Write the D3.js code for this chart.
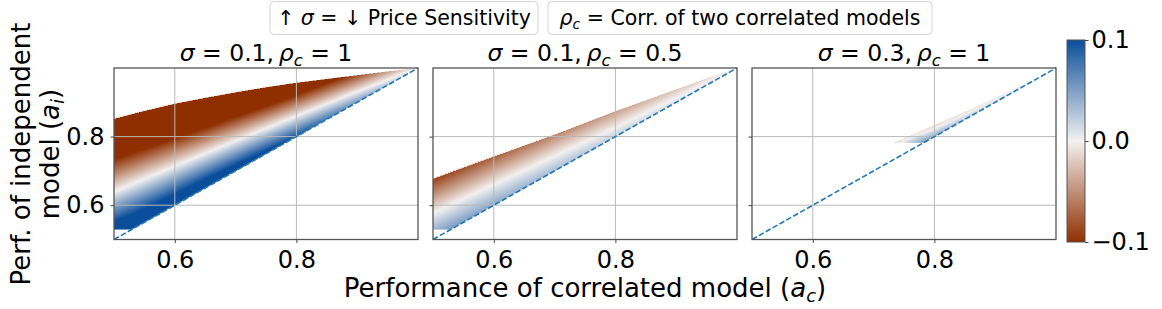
<!DOCTYPE html>
<html><head><meta charset="utf-8">
<script src="https://cdn.jsdelivr.net/npm/d3@7"></script>
<style>body{margin:0;background:#fff} text{font-family:"DejaVu Sans",sans-serif;fill:#000}</style>
</head><body><svg id="c" width="1162" height="309" xmlns="http://www.w3.org/2000/svg"></svg>
<script>
// ---- data ----
const acGrid = [0.5,0.55,0.6,0.65,0.7,0.75,0.8,0.85,0.9,0.95,1.0];
const sigmas = ["0.1","0.1","0.3"];
const rhos   = ["1","0.5","1"];
// upper edge of defined region (a_i), per a_c in acGrid
const top1  = [0.852,0.875,0.896,0.913,0.929,0.944,0.957,0.968,0.979,0.990,1.000];
const top2  = [0.677,0.710,0.742,0.774,0.806,0.840,0.874,0.906,0.938,0.970,1.000];
const top3  = [0.550,0.600,0.650,0.700,0.756,0.795,0.834,0.872,0.913,0.955,0.990];
// a_i where the value crosses 0
const zero1 = [0.639,0.677,0.714,0.751,0.788,0.824,0.860,0.896,0.931,0.966,1.000];
const zero2 = [0.577,0.619,0.661,0.702,0.744,0.785,0.826,0.870,0.913,0.957,1.000];
const zero3 = [0.520,0.570,0.620,0.670,0.720,0.789,0.824,0.864,0.908,0.953,0.990];
// a_i where the value reaches -0.1 (red end)
const neg1  = [0.734,0.765,0.795,0.826,0.858,0.889,0.922,0.956,0.989,1.022,1.055];
const neg2  = [0.687,0.729,0.771,0.813,0.855,0.897,0.940,0.982,1.025,1.070,1.110];
const neg3  = [0.600,0.650,0.700,0.750,0.800,0.869,0.904,0.944,0.988,1.033,1.070];
// a_i where the value reaches +0.1 (blue end)
const pos1  = [0.552,0.589,0.633,0.676,0.718,0.759,0.798,0.836,0.873,0.910,0.945];
const pos2  = [0.442,0.484,0.526,0.567,0.609,0.650,0.691,0.735,0.778,0.822,0.865];
const pos3  = [0.470,0.520,0.570,0.620,0.670,0.734,0.769,0.809,0.853,0.898,0.935];
// lowest a_i row with data
const floors = [0.529,0.529,0.781];
const xTicks = [0.6,0.8];
const yTicks = [0.6,0.8];
const cbTicks = [-0.1,0.0,0.1];
const cbTickLabels = ["\u22120.1","0.0","0.1"];

// ---- drawing ----
const svg = d3.select("#c");
const color = d3.scaleLinear().domain([-0.1,0,0.1])
  .range(["#8f2f00","#f3f1f0","#0a4e9b"]).clamp(true);

const panelX = [114,433,752];
const W = 304, Y0 = 68, H = 171.5;
const FT = 24;
const panels = [
  {top:top1, zero:zero1, neg:neg1, pos:pos1},
  {top:top2, zero:zero2, neg:neg2, pos:pos2},
  {top:top3, zero:zero3, neg:neg3, pos:pos3}
];

panels.forEach((p,i)=>{
  const x0 = panelX[i];
  const x = d3.scaleLinear().domain([0.5,1.0]).range([x0,x0+W]);
  const y = d3.scaleLinear().domain([0.5,1.0]).range([Y0+H,Y0]);
  const g = svg.append("g");
  g.append("rect").attr("x",x0).attr("y",Y0).attr("width",W).attr("height",H).attr("fill","#fff");

  const topS = d3.scaleLinear().domain(acGrid).range(p.top);
  const zeroS = d3.scaleLinear().domain(acGrid).range(p.zero);
  const negS = d3.scaleLinear().domain(acGrid).range(p.neg);
  const posS = d3.scaleLinear().domain(acGrid).range(p.pos);
  const SS = 2;
  const cw = Math.round(W*SS), ch = Math.round(H*SS);
  const canvas = document.createElement("canvas");
  canvas.width = cw; canvas.height = ch;
  const ctx = canvas.getContext("2d");
  const img = ctx.createImageData(cw,ch);
  for(let px=0; px<cw; px++){
    const ac = x.invert(x0 + (px+0.5)/SS);
    const tp = topS(ac);
    const v = d3.scaleLinear().domain([posS(ac),zeroS(ac),negS(ac)]).range([0.1,0,-0.1]).clamp(true);
    for(let py=0; py<ch; py++){
      const ai = y.invert(Y0 + (py+0.5)/SS);
      if (ai > tp || ai < floors[i] || ai <= ac) continue;
      const c = d3.rgb(color(v(ai)));
      const k = (py*cw+px)*4;
      img.data[k]=c.r; img.data[k+1]=c.g; img.data[k+2]=c.b; img.data[k+3]=255;
    }
  }
  ctx.putImageData(img,0,0);
  g.append("image").attr("x",x0).attr("y",Y0).attr("width",W).attr("height",H)
    .attr("preserveAspectRatio","none").attr("href",canvas.toDataURL());

  // grid
  g.selectAll(".gx").data(xTicks).enter().append("line")
    .attr("x1",d=>x(d)).attr("x2",d=>x(d)).attr("y1",Y0).attr("y2",Y0+H)
    .attr("stroke","#b9b9b9").attr("stroke-width",1);
  g.selectAll(".gy").data(yTicks).enter().append("line")
    .attr("y1",d=>y(d)).attr("y2",d=>y(d)).attr("x1",x0).attr("x2",x0+W)
    .attr("stroke","#b9b9b9").attr("stroke-width",1);
  // diagonal
  g.append("line").attr("x1",x(0.5)).attr("y1",y(0.5)).attr("x2",x(1.0)).attr("y2",y(1.0))
    .attr("stroke","#1f77b4").attr("stroke-width",1.6).attr("stroke-dasharray","5.5,2.4");
  // spines
  g.append("rect").attr("x",x0).attr("y",Y0).attr("width",W).attr("height",H)
    .attr("fill","none").attr("stroke","#555").attr("stroke-width",1.3);
  // axes
  const xa = g.append("g").attr("transform",`translate(0,${Y0+H})`)
    .call(d3.axisBottom(x).tickValues(xTicks).tickFormat(d3.format(".1f")).tickSize(3.5).tickPadding(8));
  xa.select(".domain").remove();
  xa.selectAll("line").attr("stroke","#444");
  xa.selectAll("text").attr("font-size",FT).attr("font-family","DejaVu Sans").attr("fill","#000");
  const ya = g.append("g").attr("transform",`translate(${x0},0)`)
    .call(d3.axisLeft(y).tickValues(yTicks).tickFormat(i===0?d3.format(".1f"):()=>"").tickSize(3.5).tickPadding(6));
  ya.select(".domain").remove();
  ya.selectAll("line").attr("stroke","#444");
  ya.selectAll("text").attr("font-size",FT).attr("font-family","DejaVu Sans").attr("fill","#000");

  // title
  const t = svg.append("text").attr("x",x0+W/2).attr("y",61).attr("text-anchor","middle").attr("font-size",23.5);
  t.append("tspan").attr("font-style","italic").text("\u03c3");
  t.append("tspan").text(" = " + sigmas[i] + ",\u2009");
  t.append("tspan").attr("font-style","italic").text("\u03c1");
  t.append("tspan").attr("font-style","italic").attr("font-size",16.5).attr("dy",4.5).text("c");
  t.append("tspan").attr("dy",-4.5).text(" = " + rhos[i]);
});

// colorbar
const cbX = 1067, cbW = 18, cbY0 = 40, cbY1 = 242;
const cy = d3.scaleLinear().domain([-0.1,0.1]).range([cbY1,cbY0]);
const defs = svg.append("defs");
const grad = defs.append("linearGradient").attr("id","cbg").attr("x1",0).attr("y1",1).attr("x2",0).attr("y2",0);
d3.range(0,1.0001,0.05).forEach(f=>{
  grad.append("stop").attr("offset",f).attr("stop-color",color(-0.1+0.2*f));
});
svg.append("rect").attr("x",cbX).attr("y",cbY0).attr("width",cbW).attr("height",cbY1-cbY0)
  .attr("fill","url(#cbg)").attr("stroke","#555").attr("stroke-width",1);
const cba = svg.append("g").attr("transform",`translate(${cbX+cbW},0)`)
  .call(d3.axisRight(cy).tickValues(cbTicks).tickFormat((d,i)=>cbTickLabels[i]).tickSize(3.5).tickPadding(3));
cba.select(".domain").remove();
cba.selectAll("line").attr("stroke","#444");
cba.selectAll("text").attr("font-size",FT).attr("font-family","DejaVu Sans").attr("fill","#000");

// legend boxes
function legendBox(x, w){
  svg.append("rect").attr("x",x).attr("y",1.5).attr("width",w).attr("height",33)
    .attr("rx",4).attr("fill","#fff").attr("stroke","#d3d3d3").attr("stroke-width",1);
}
legendBox(270,268);
legendBox(548,384);
const l1 = svg.append("text").attr("x",404).attr("y",25).attr("text-anchor","middle").attr("font-size",20.5);
l1.append("tspan").text("\u2191 ");
l1.append("tspan").attr("font-style","italic").text("\u03c3");
l1.append("tspan").text(" = \u2193 Price Sensitivity");
const l2 = svg.append("text").attr("x",740).attr("y",25).attr("text-anchor","middle").attr("font-size",20.5);
l2.append("tspan").attr("font-style","italic").text("\u03c1");
l2.append("tspan").attr("font-style","italic").attr("font-size",14).attr("dy",3.5).text("c");
l2.append("tspan").attr("dy",-3.5).text(" = Corr. of two correlated models");

// axis labels
const xl = svg.append("text").attr("x",585).attr("y",297).attr("text-anchor","middle").attr("font-size",26);
xl.append("tspan").text("Performance of correlated model (");
xl.append("tspan").attr("font-style","italic").text("a");
xl.append("tspan").attr("font-style","italic").attr("font-size",18).attr("dy",5).text("c");
xl.append("tspan").attr("dy",-5).text(")");

const yl = svg.append("g").attr("transform","translate(30,154) rotate(-90)");
yl.append("text").attr("x",0).attr("y",0).attr("text-anchor","middle").attr("font-size",26).text("Perf. of independent");
const yl2 = yl.append("text").attr("x",0).attr("y",29).attr("text-anchor","middle").attr("font-size",26);
yl2.append("tspan").text("model (");
yl2.append("tspan").attr("font-style","italic").text("a");
yl2.append("tspan").attr("font-style","italic").attr("font-size",18).attr("dy",5).text("i");
yl2.append("tspan").attr("dy",-5).text(")");
</script></body></html>
